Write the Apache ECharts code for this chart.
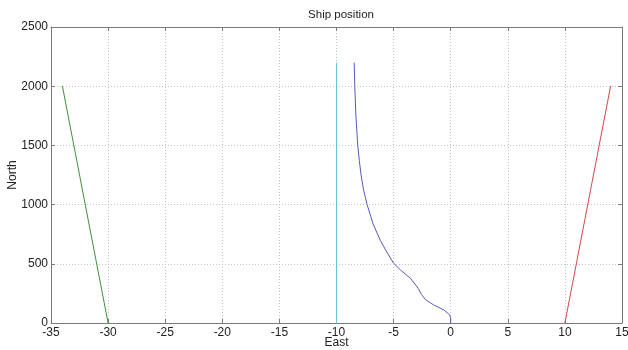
<!DOCTYPE html>
<html>
<head>
<meta charset="utf-8">
<script src="https://cdn.jsdelivr.net/npm/echarts@6/dist/echarts.min.js"></script>
<style>
html,body{margin:0;padding:0;background:#fff;}
#chart{width:628px;height:350px;}
</style>
</head>
<body>
<div id="chart"></div>
<script>
// Ship track (East, North)
const shipEast  = [0, 0, -0.1, -0.6, -1.5, -2.2, -2.55, -2.85, -3.5, -4.4, -5.0, -5.6, -6.16, -6.8, -7.32, -7.62, -7.85, -8.0, -8.14, -8.3, -8.4, -8.45];
const shipNorth = [0, 40, 70, 110, 153, 196, 240, 293, 375, 448, 505, 600, 697, 837, 1000, 1118, 1250, 1370, 1500, 1750, 2000, 2200];
// Left boundary (green)
const leftEast  = [-34, -30];
const leftNorth = [2000, 0];
// Right boundary (red)
const rightEast  = [10, 14];
const rightNorth = [0, 2000];
// Reference line (cyan)
const refEast  = [-10, -10];
const refNorth = [0, 2200];
// Axes
const xTicks = [-35, -30, -25, -20, -15, -10, -5, 0, 5, 10, 15];
const yTicks = [0, 500, 1000, 1500, 2000, 2500];

function pairs(xs, ys){ return xs.map((x,i)=>[x, ys[i]]); }

const FONT = 'Liberation Sans, Arial, sans-serif';
const axisGray = '#7a7a7a';
const gridStyle = {show:true, lineStyle:{color:'#c4c4c4', type:[1,2], width:1}};

const chart = echarts.init(document.getElementById('chart'), null, {renderer:'canvas'});
const baseX = {
  type:'value', min:xTicks[0], max:xTicks[xTicks.length-1], interval:5,
  axisLine:{show:true, onZero:false, lineStyle:{color:axisGray, width:1}},
  axisTick:{show:true, inside:true, length:4, lineStyle:{color:axisGray}},
};
const baseY = {
  type:'value', min:yTicks[0], max:yTicks[yTicks.length-1], interval:500,
  axisLine:{show:true, onZero:false, lineStyle:{color:axisGray, width:1}},
  axisTick:{show:true, inside:true, length:4, lineStyle:{color:axisGray}},
};
chart.setOption({
  animation:false,
  backgroundColor:'#fff',
  title:{text:'Ship position', left:336, top:4, textAlign:'center',
    textStyle:{fontFamily:FONT, fontSize:11.5, fontWeight:'normal', color:'#222'}},
  grid:{left:51, right:6, top:27, bottom:27, containLabel:false, outerBoundsMode:'none'},
  xAxis:[
    Object.assign({}, baseX, {position:'bottom', name:'East', nameLocation:'middle', nameGap:14, nameMoveOverlap:false,
      nameTextStyle:{fontFamily:FONT, fontSize:12, color:'#222'},
      axisLabel:{fontFamily:FONT, fontSize:12, color:'#222', margin:4},
      splitLine:gridStyle}),
    Object.assign({}, baseX, {position:'top', axisLabel:{show:false}, splitLine:{show:false}})
  ],
  yAxis:[
    Object.assign({}, baseY, {position:'left', name:'North', nameLocation:'middle', nameGap:32, nameMoveOverlap:false,
      nameTextStyle:{fontFamily:FONT, fontSize:12, color:'#222'},
      axisLabel:{fontFamily:FONT, fontSize:12, color:'#222', margin:3, formatter:function(v){return String(v);}},
      splitLine:gridStyle}),
    Object.assign({}, baseY, {position:'right', axisLabel:{show:false}, splitLine:{show:false}})
  ],
  series:[
    {type:'line', data:pairs(leftEast, leftNorth), symbol:'none', lineStyle:{color:'#3f8f3f', width:1}},
    {type:'line', data:pairs(rightEast, rightNorth), symbol:'none', lineStyle:{color:'#d04848', width:1}},
    {type:'line', data:pairs(refEast, refNorth), symbol:'none', lineStyle:{color:'#6cc4dc', width:1}},
    {type:'line', data:pairs(shipEast, shipNorth), symbol:'none', smooth:false, lineStyle:{color:'#5a5ab8', width:1}}
  ]
});
</script>
</body>
</html>
